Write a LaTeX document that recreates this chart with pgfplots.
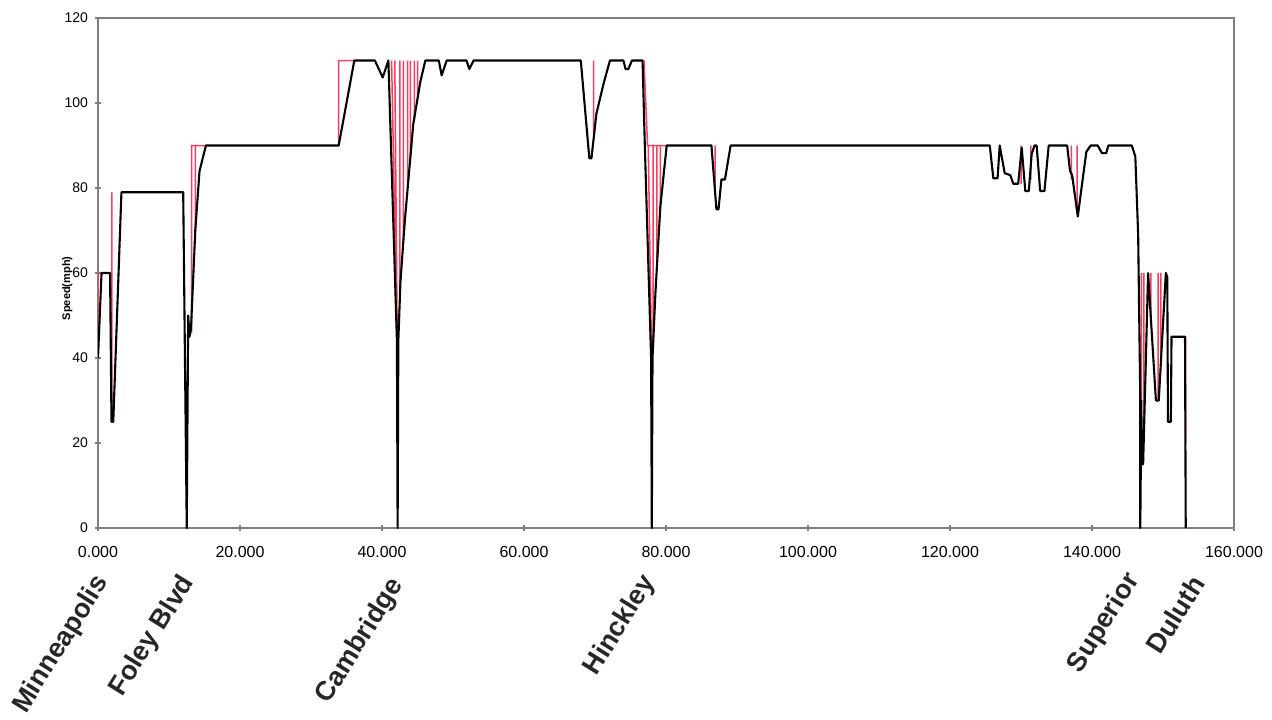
\documentclass[border=0pt]{standalone}
\usepackage{fontspec}
\setmainfont{Liberation Sans}
\usepackage{pgfplots}
\pgfplotsset{compat=1.18}
\usepackage{pgfplotstable}
\definecolor{limitred}{RGB}{250,60,95}
\definecolor{axgray}{RGB}{128,128,128}

\pgfplotstableread{
x y
0.0 40
0.5 60
1.7 60
1.9 25
2.15 25
3.3 79
12.0 79
12.5 0
12.7 50
12.9 45
13.1 47
13.7 70
14.3 84
15.2 90
33.9 90
36.1 110
39.0 110
40.1 106
40.9 110
42.1 44
42.2 0
42.3 44
42.6 58
43.2 72
44.4 95
45.4 105
46.1 110
48.0 110
48.4 106.5
49.1 110
51.9 110
52.3 108
52.9 110
68.0 110
69.2 87
69.5 87
70.2 97.5
71.2 104.5
72.1 110
74.0 110
74.3 108
74.7 108
75.2 110
76.7 110
77.0 91
77.9 40
78.0 0
78.1 40
78.5 55
79.2 75.6
80.1 90
86.4 90
87.1 75
87.4 75
87.8 82
88.3 82
89.1 90
125.6 90
126.1 82.3
126.7 82.3
127.0 90
127.7 83.5
128.5 83
128.9 81
129.6 81
130.1 89.5
130.6 79.3
131.1 79.3
131.5 88
131.9 90
132.2 90
132.7 79.3
133.3 79.3
133.9 90
136.5 90
136.9 84
137.2 83
138.0 73.3
138.6 81
139.2 88.5
139.8 90
140.8 90
141.4 88.2
142.0 88.2
142.3 90
145.6 90
146.1 87.4
146.5 69
146.8 30
146.8 0
146.95 30
147.0 15
147.2 15
147.9 60
149.0 30
149.4 30
150.4 60
150.6 59
150.7 25
151.1 25
151.2 45
153.1 45
153.2 0
}\blacktab

\pgfplotstableread{
x y
0 40
0 60
0 nan
1.95 27
1.95 79
1.95 nan
13.2 46
13.2 90
15.2 90
15.2 nan
13.7 68
13.7 90
13.7 nan
33.9 90
33.9 110
36.1 110
36.1 nan
41.35 110
42.1 46
42.1 nan
41.8 110
42.15 44
42.15 nan
42.5 110
42.5 54
42.5 nan
43.0 110
43.0 67
43.0 nan
43.6 110
43.6 80
43.6 nan
44.0 110
44.0 87
44.0 nan
44.55 110
44.55 96
44.55 nan
45.0 110
45.0 101
45.0 nan
69.8 93
69.8 110
69.8 nan
76.9 110
77.4 90
80.1 90
80.1 nan
77.5 90
77.95 42
77.95 nan
78.2 90
78.2 44
78.2 nan
78.7 90
78.7 61
78.7 nan
79.2 90
79.2 75
79.2 nan
86.9 79
86.9 90
86.9 nan
130.0 81
130.0 90
130.0 nan
131.4 82
131.4 90
131.4 nan
137.1 82
137.1 90
137.1 nan
137.9 74
137.9 90
137.9 nan
146.95 30
146.95 60
146.95 nan
147.3 20
147.3 60
147.3 nan
148.3 50
148.3 60
148.3 nan
149.3 30
149.3 60
149.3 nan
149.7 38
149.7 60
149.7 nan
153.2 20
153.2 45
}\redtab

\begin{document}
\begin{tikzpicture}
\begin{axis}[name=ax, scale only axis, width=568pt, height=255pt,
  xmin=0, xmax=160, ymin=0, ymax=120,
  xtick={0,20,...,160},
  xticklabels={0.000,20.000,40.000,60.000,80.000,100.000,120.000,140.000,160.000},
  ytick={0,20,...,120},
  tick align=center, major tick length=3pt,
  xtick pos=left, ytick pos=left,
  axis line style={axgray, line width=0.6pt},
  tick style={axgray, line width=0.6pt},
  xticklabel style={font=\fontsize{8}{9}\selectfont, yshift=-4pt},
  yticklabel style={font=\fontsize{7}{8}\selectfont},
  /pgf/number format/assume math mode=true,
  ylabel={Speed(mph)},
  ylabel style={at={(axis description cs:-0.027,0.47)}, anchor=center, font=\fontsize{5.5}{6.5}\selectfont\bfseries},
  unbounded coords=jump,
]
\addplot[limitred, line width=0.75pt] table {\redtab};
\addplot[black, line width=1.05pt, line join=round] table {\blacktab};
\end{axis}
\begin{scope}[every node/.style={rotate=58, anchor=east, inner sep=0pt, font=\fontsize{13.5}{15}\selectfont\bfseries, text=black!85}]
\node at ([shift={(2.5pt,-25pt)}]ax.south west) {Minneapolis};
\node at ([shift={(45.5pt,-25pt)}]ax.south west) {Foley Blvd};
\node at ([shift={(150pt,-26.5pt)}]ax.south west) {Cambridge};
\node at ([shift={(276pt,-25pt)}]ax.south west) {Hinckley};
\node at ([shift={(518pt,-24pt)}]ax.south west) {Superior};
\node at ([shift={(550pt,-25pt)}]ax.south west) {Duluth};
\end{scope}
\pgfresetboundingbox
\path[use as bounding box] ([shift={(-49pt,-95.5pt)}]ax.south west) rectangle ([shift={(19pt,9pt)}]ax.north east);
\end{tikzpicture}
\end{document}
